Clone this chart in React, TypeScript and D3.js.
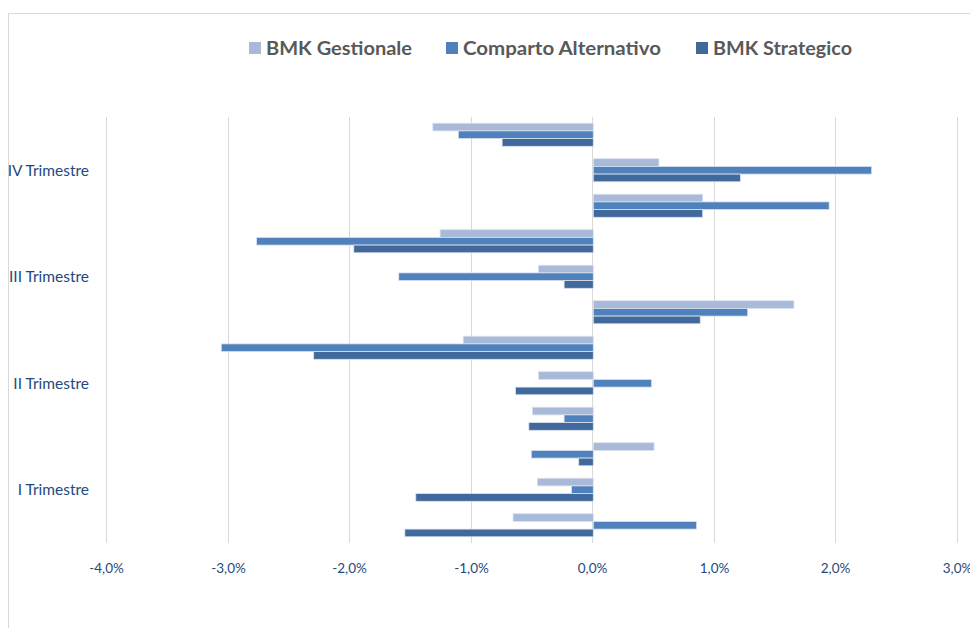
import React from 'react';
import * as d3 from 'd3';

const width = 970;
const height = 628;
const margin = { top: 117, right: 12, left: 107, bottom: 85 };

// categories from bottom to top (months of the year)
const months = ['Gen', 'Feb', 'Mar', 'Apr', 'Mag', 'Giu', 'Lug', 'Ago', 'Set', 'Ott', 'Nov', 'Dic'];
const quarterLabels = ['', 'I Trimestre', '', '', 'II Trimestre', '', '', 'III Trimestre', '', '', 'IV Trimestre', ''];

const seriesNames = ['BMK Gestionale', 'Comparto Alternativo', 'BMK Strategico'];
const seriesColors = ['#a9b9d8', '#4f81bd', '#41699c'];

// values in %
const gestionale = [-0.66, -0.46, 0.5, -0.5, -0.45, -1.07, 1.65, -0.45, -1.26, 0.9, 0.54, -1.32];
const comparto = [0.85, -0.18, -0.51, -0.24, 0.48, -3.06, 1.27, -1.6, -2.77, 1.94, 2.29, -1.11];
const strategico = [-1.55, -1.46, -0.12, -0.53, -0.64, -2.3, 0.88, -0.24, -1.97, 0.9, 1.21, -0.75];

const seriesValues = [gestionale, comparto, strategico];
const xTicks = [-4, -3, -2, -1, 0, 1, 2, 3];

const App = () => {
  const xScale = d3.scaleLinear().domain([-4, 3]).range([0, 851]);

  // top category is the last month
  const yScale = d3.scaleBand()
    .domain(months.slice().reverse())
    .range([0, 426])
    .paddingInner(0.35)
    .paddingOuter(0.175);

  const inner = d3.scaleBand()
    .domain(seriesNames)
    .range([0, yScale.bandwidth()]);

  const fmt = (v: number) => v.toFixed(1).replace('.', ',') + '%';

  const legendX = [249, 446, 696];
  const legendW = [146, 198, 139];

  return (
    <svg width={width} height={height} style={{ position: 'absolute', left: 0, top: 0, fontFamily: 'Lato, Carlito, sans-serif' }}>
      <rect x={0} y={0} width={width} height={height} fill="#fff" />
      <rect x={8.5} y={13.5} width={1000} height={700} fill="#fff" stroke="#d9d9d9" strokeWidth={1} />

      {/* legend */}
      {seriesNames.map((name, i) => (
        <g key={name} transform={`translate(${legendX[i]}, 48)`}>
          <rect x={0} y={-6} width={12} height={12} fill={seriesColors[i]} />
          <text x={17} dy=".35em" fontSize={19.5} fontWeight="bold" fill="#595959"
            textLength={legendW[i]} lengthAdjust="spacingAndGlyphs">{name}</text>
        </g>
      ))}

      <g transform={`translate(${margin.left}, ${margin.top})`}>
        {xTicks.map(t => (
          <g key={t} transform={`translate(${Math.round(xScale(t)) - 0.5}, 0)`}>
            <line y1={0} y2={426} stroke="#d9d9d9" strokeWidth={1} />
            <text y={446} dy=".71em" textAnchor="middle" fontSize={13.5} fill="#1f497d">{fmt(t)}</text>
          </g>
        ))}

        {months.map((m, mi) => (
          <g key={m} transform={`translate(0, ${yScale(m)})`}>
            {seriesValues.map((vals, si) => {
              const v = vals[mi];
              const x0 = xScale(Math.min(0, v));
              const x1 = xScale(Math.max(0, v));
              return (
                <rect
                  key={si}
                  x={x0}
                  y={inner(seriesNames[si])}
                  width={x1 - x0}
                  height={inner.bandwidth()}
                  fill={seriesColors[si]}
                  stroke="#dbe2ef"
                  strokeWidth={0.8}
                />
              );
            })}
          </g>
        ))}

        {months.map((m, mi) => quarterLabels[mi] ? (
          <text
            key={'l' + m}
            x={-18}
            y={(yScale(m) as number) + yScale.bandwidth() / 2}
            dy=".35em"
            textAnchor="end"
            fontSize={15.5}
            fill="#1f497d"
          >
            {quarterLabels[mi]}
          </text>
        ) : null)}
      </g>
    </svg>
  );
};

export default App;
